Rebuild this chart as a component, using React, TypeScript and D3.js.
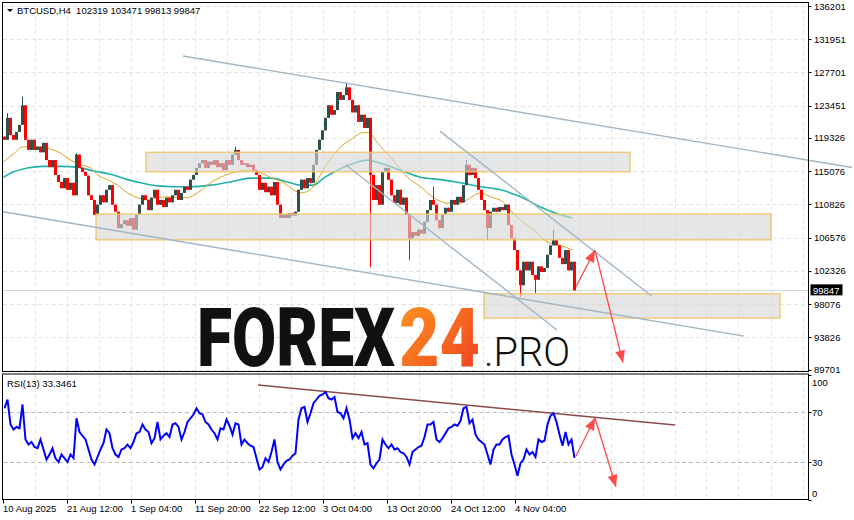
import React from 'react';
import * as d3 from 'd3';

// ---------- DATA ----------
const symbolTitle = 'BTCUSD,H4  102319 103471 99813 99847';
const rsiTitle = 'RSI(13) 33.3461';
const lastPrice = 99847;
const firstOpen = 119500;
// one candle every 3 H4 bars
const closes = [
  119100, 121900, 119700, 119100, 120100, 121000, 123500, 119100, 117800, 119100,
  117800, 118200, 117500, 118700, 116500, 115600, 116500, 114600, 113700, 112900,
  114200, 112700, 113600, 112000, 117200, 115500, 115000, 114500, 112000, 111400,
  109500, 110800, 112000, 111100, 112700, 113300, 110800, 109900, 107800, 108300,
  108800, 108100, 109100, 107600, 109500, 110800, 112000, 111400, 110100, 111700,
  112700, 110800, 111400, 110500, 111700, 111100, 112000, 112700, 111400, 112300,
  113100, 112700, 114000, 114600, 115500, 116100, 116500, 115500, 116300, 115900,
  116500, 115600, 116100, 115200, 116500, 115900, 117200, 117800, 116500, 115900,
  116100, 115600, 115900, 115200, 114600, 112700, 113600, 112400, 113100, 112000,
  113700, 110800, 109100, 109600, 109100, 109700, 109400, 109900, 112700, 114000,
  112900, 114200, 113600, 115900, 117800, 119100, 120300, 121900, 123500, 122300,
  122900, 125200, 124200, 124800, 125800, 124200, 122600, 123500, 121400, 122300,
  120600, 121900, 114600, 111400, 113300, 110800, 115000, 115500, 114000, 112000,
  111000, 112700, 110800, 111700, 109500, 106500, 107300, 106800, 107600, 107100,
  108600, 110100, 111400, 110800, 108800, 107800, 109500, 110400, 109900, 111400,
  110800, 111800, 111100, 113300, 115900, 114600, 115500, 114200, 112700, 111400,
  110100, 107800, 109900, 110400, 109900, 110500, 110100, 110800, 108200, 106500,
  105000, 102400, 100500, 103500, 102400, 103500, 101800, 101200, 102900, 102200,
  102700, 104400, 105600, 106300, 105600, 104000, 103200, 105000, 102400, 103500,
  99847,
];
const wickHighIdx = [1, 6, 24, 77, 114, 143, 154, 183];
const wickHighVal = [122500, 124600, 117400, 118200, 126400, 113100, 116500, 107600];
const wickLowIdx = [122, 135, 161, 172, 177];
const wickLowVal = [102800, 103700, 106300, 99000, 99500];

const rsiValues = [
  73, 80, 60, 56, 58, 57, 76, 48, 44, 46,
  42, 41, 48, 40, 32, 36, 41, 33, 30, 36,
  33, 30, 36, 33, 65, 54, 51, 48, 40, 32,
  28, 34, 40, 45, 56, 53, 41, 36, 34, 40,
  41, 44, 41, 46, 53, 54, 60, 56, 54, 45,
  49, 62, 48, 51, 53, 50, 60, 61, 58, 48,
  54, 62, 65, 68, 73, 69, 68, 62, 60, 56,
  53, 48, 57, 56, 64, 59, 52, 61, 60, 44,
  48, 45, 43, 42, 33, 24, 26, 33, 30, 38,
  48, 30, 24, 28, 31, 32, 35, 37, 64, 73,
  74, 62, 69, 77, 80, 83, 84, 86, 81, 80,
  82, 70, 69, 65, 73, 64, 49, 53, 49, 54,
  44, 45, 28, 25, 29, 32, 48, 44, 41, 44,
  40, 41, 38, 37, 34, 28, 38, 40, 42, 43,
  50, 60, 60, 62, 48, 46, 49, 53, 57, 58,
  60, 59, 63, 73, 74, 61, 64, 52, 48, 46,
  44, 36, 28, 40, 44, 44, 48, 50, 51, 36,
  28, 19, 29, 32, 40, 36, 38, 34, 48, 46,
  47, 60, 67, 69, 62, 52, 43, 54, 44, 48,
  33.35,
];

const maFastBars = [0, 10, 20, 30, 40, 47, 57, 67, 77, 87, 94, 104, 114, 124, 134, 144, 154, 164, 174, 184, 194, 207, 227, 244, 254, 267, 280, 290, 297, 307, 314, 324, 334, 347, 360, 365, 374, 380, 387, 404, 417, 430, 444, 457, 467, 477, 487, 500, 507, 517, 530, 544, 557, 569];
const maFastVals = [116300, 117300, 118200, 118200, 118200, 117900, 117400, 116500, 115900, 115500, 114600, 114000, 113300, 112300, 111700, 111400, 111700, 111800, 111700, 111700, 112300, 113600, 114800, 115200, 115000, 114300, 113600, 112700, 112300, 112700, 114000, 116100, 117800, 119100, 120000, 120000, 118700, 117800, 116900, 114300, 113100, 111700, 111000, 111000, 111700, 112300, 111800, 111100, 110100, 108800, 107600, 106000, 105600, 105000];
const maSlowBars = [0, 10, 24, 40, 57, 74, 90, 107, 124, 137, 154, 170, 187, 207, 227, 247, 267, 284, 297, 310, 320, 334, 350, 364, 377, 397, 417, 437, 457, 477, 497, 517, 537, 557, 569];
const maSlowVals = [114300, 115000, 115500, 115700, 115700, 115600, 115100, 114700, 114000, 113600, 113200, 113100, 113100, 113300, 113700, 114200, 114200, 113700, 113300, 113300, 114200, 115200, 116100, 116500, 116100, 115200, 114300, 114000, 113600, 113100, 112700, 111800, 110500, 109500, 109100];

const priceTicks = [136201, 131951, 127701, 123451, 119326, 115076, 110826, 106576, 102326, 98076, 93826, 89701];
const rsiTicks = [100, 70, 30, 0];
const rsiLevels = [70, 30];
const dateLabels = ['10 Aug 2025', '21 Aug 12:00', '1 Sep 04:00', '11 Sep 20:00', '22 Sep 12:00', '3 Oct 04:00', '13 Oct 20:00', '24 Oct 12:00', '4 Nov 04:00'];

// zones: [barFrom, barTo, priceTop, priceBottom]
const zoneFrom = [142.5, 92.5, 480.5];
const zoneTo = [626.5, 767.5, 776.5];
const zoneTop = [117500, 109600, 99400];
const zoneBottom = [115000, 106300, 96300];

// trend lines
const trendB0 = [179.5, -0.5, 436.5, 342.5];
const trendP0 = [129800, 109900, 120200, 115870];
const trendB1 = [848.5, 740.5, 648.5, 553.5];
const trendP1 = [115550, 94000, 99100, 94780];

const priceArrowB0 = [572.5, 591.5];
const priceArrowP0 = [100300, 105000];
const priceArrowB1 = [591.5, 619.5];
const priceArrowP1 = [105000, 90600];

const rsiTrend = [254.5, 91.6, 671.5, 59.6];
const rsiArrowB0 = [572.5, 591.5];
const rsiArrowV0 = [34.8, 65.2];
const rsiArrowB1 = [591.5, 612.5];
const rsiArrowV1 = [65.2, 10];

// ---------- CHART ----------
const FONT = 'Liberation Sans, Arial, sans-serif';
const BULL = '#2F4F4F';
const BEAR = '#FF0000';
const TREND = '#9FB6C6';
const ARROW = '#FF4A4A';

function head(x1: number, y1: number, x2: number, y2: number, len = 12, w = 5) {
  const a = Math.atan2(y2 - y1, x2 - x1);
  const bx = x2 - len * Math.cos(a), by = y2 - len * Math.sin(a);
  const px = -Math.sin(a) * w, py = Math.cos(a) * w;
  return `${x2},${y2} ${bx + px},${by + py} ${bx - px},${by - py}`;
}

export default function App() {
  const L = 3, R = 808.5, MT = 2.5, MB = 371.5, RT = 374, RB = 499.5;
  const x = d3.scaleLinear().domain([0, 805]).range([3.5, 808.5]);
  const y = d3.scaleLinear().domain([89701, 136201]).range([369.7, 6]);
  const yr = d3.scaleLinear().domain([0, 100]).range([RB, RT + 0.5]);

  const hiMap = new Map<number, number>();
  wickHighIdx.forEach((k, j) => hiMap.set(k, wickHighVal[j]));
  const loMap = new Map<number, number>();
  wickLowIdx.forEach((k, j) => loMap.set(k, wickLowVal[j]));

  const candles = closes.map((c, i) => {
    const o = i === 0 ? firstOpen : closes[i - 1];
    const hi = Math.max(o, c, hiMap.get(i) ?? -Infinity);
    const lo = Math.min(o, c, loMap.get(i) ?? Infinity);
    return { bar: i * 3, o, c, hi, lo };
  });

  const maLine = d3.line<[number, number]>().x(d => x(d[0])).y(d => y(d[1])).curve(d3.curveMonotoneX);
  const fastPts = maFastBars.map((b, i) => [b, maFastVals[i]] as [number, number]);
  const slowPts = maSlowBars.map((b, i) => [b, maSlowVals[i]] as [number, number]);
  const rsiLine = d3.line<number>().x((_, i) => x(i * 3 + 1)).y(v => yr(v));

  const vGrid = d3.range(32, 805, 32);

  return (
    <svg width={854} height={520} style={{ position: 'absolute', left: 0, top: 0, background: '#fff' }} fontFamily={FONT}>
      <defs>
        <clipPath id="main"><rect x={L} y={MT} width={R - L} height={MB - MT} /></clipPath>
        <clipPath id="rsi"><rect x={L} y={RT} width={R - L} height={RB - RT} /></clipPath>
        <linearGradient id="g24" x1="0" y1="0" x2="1" y2="1">
          <stop offset="0" stopColor="#FF9A1E" />
          <stop offset="1" stopColor="#EE3A24" />
        </linearGradient>
      </defs>
      <rect width={854} height={520} fill="#fff" />

      {/* grid main */}
      <g stroke="#E3E3E3" strokeDasharray="4,3" strokeWidth={1}>
        {priceTicks.map(p => <line key={'h' + p} x1={L} x2={R} y1={Math.round(y(p)) + 0.5} y2={Math.round(y(p)) + 0.5} />)}
        {vGrid.map(b => <line key={'v' + b} x1={Math.round(x(b)) - 0.5} x2={Math.round(x(b)) - 0.5} y1={MT} y2={MB} />)}
        {vGrid.map(b => <line key={'vr' + b} x1={Math.round(x(b)) - 0.5} x2={Math.round(x(b)) - 0.5} y1={RT} y2={RB} />)}
      </g>
      <g stroke="#BDBDBD" strokeDasharray="4,3">
        {rsiLevels.map(v => <line key={'l' + v} x1={L} x2={R} y1={Math.round(yr(v)) + 0.5} y2={Math.round(yr(v)) + 0.5} />)}
      </g>

      {/* last price line */}
      <line x1={L} x2={R} y1={Math.round(y(lastPrice)) + 0.5} y2={Math.round(y(lastPrice)) + 0.5} stroke="#D4D4D4" />

      <g clipPath="url(#main)">
        <path d={maLine(slowPts) || ''} fill="none" stroke="#20B2AA" strokeWidth={1.6} />
        <path d={maLine(fastPts) || ''} fill="none" stroke="#DAA520" strokeWidth={1} />
        {candles.map((k, i) => {
          const col = k.c >= k.o ? BULL : BEAR;
          const cx = x(k.bar) + 1;
          const top = y(Math.max(k.o, k.c));
          const bot = y(Math.min(k.o, k.c));
          return (
            <g key={i}>
              <line x1={cx} x2={cx} y1={y(k.hi)} y2={y(k.lo)} stroke={col} strokeWidth={1} />
              <rect x={cx - 1.5} y={top} width={3} height={Math.max(1.2, bot - top)} fill={col} />
            </g>
          );
        })}
        {zoneFrom.map((b, i) => (
          <rect key={'z' + i} x={x(b)} y={y(zoneTop[i])} width={x(zoneTo[i]) - x(b)} height={y(zoneBottom[i]) - y(zoneTop[i])}
            fill="#D6D6D6" fillOpacity={0.62} stroke="#F3C56A" strokeWidth={1.3} />
        ))}
      </g>

      {trendB0.map((b, i) => (
        <line key={'t' + i} x1={x(b)} y1={y(trendP0[i])} x2={x(trendB1[i])} y2={y(trendP1[i])} stroke={TREND} strokeWidth={1.4} />
      ))}

      {priceArrowB0.map((b, i) => {
        const x1 = x(b), y1 = y(priceArrowP0[i]), x2 = x(priceArrowB1[i]), y2 = y(priceArrowP1[i]);
        return (
          <g key={'pa' + i}>
            <line x1={x1} y1={y1} x2={x2} y2={y2} stroke={ARROW} strokeWidth={1.3} />
            <polygon points={head(x1, y1, x2, y2)} fill={ARROW} />
          </g>
        );
      })}

      {/* watermark */}
      <g fontFamily="Roboto, Lato, sans-serif">
        <g transform="translate(197,366) scale(1,1.27)">
          <text x={0} y={0} fontWeight={900} fontSize={64} textLength={198} lengthAdjust="spacingAndGlyphs" fill="#111">FOREX</text>
        </g>
        <g transform="translate(399,366) scale(1,1.27)">
          <text x={0} y={0} fontWeight={900} fontSize={64} textLength={81} lengthAdjust="spacingAndGlyphs" fill="url(#g24)">24</text>
        </g>
        <text x={484} y={366} fontWeight={300} fontSize={40} textLength={86} lengthAdjust="spacingAndGlyphs" fill="#111">.PRO</text>
      </g>

      {/* RSI */}
      <g clipPath="url(#rsi)">
        <line x1={x(rsiTrend[0])} y1={yr(rsiTrend[1])} x2={x(rsiTrend[2])} y2={yr(rsiTrend[3])} stroke="#8E4A4A" strokeWidth={1.5} />
        <path d={rsiLine(rsiValues) || ''} fill="none" stroke="#0000FF" strokeWidth={2} strokeLinejoin="miter" />
        {rsiArrowB0.map((b, i) => {
          const x1 = x(b), y1 = yr(rsiArrowV0[i]), x2 = x(rsiArrowB1[i]), y2 = yr(rsiArrowV1[i]);
          return (
            <g key={'ra' + i}>
              <line x1={x1} y1={y1} x2={x2} y2={y2} stroke={ARROW} strokeWidth={1.3} />
              <polygon points={head(x1, y1, x2, y2)} fill={ARROW} />
            </g>
          );
        })}
      </g>

      <rect x={L - 0.5} y={MT} width={R - L + 0.5} height={MB - MT} fill="none" stroke="#000" strokeWidth={1} />
      <rect x={L - 0.5} y={RT} width={R - L + 0.5} height={RB - RT} fill="none" stroke="#000" strokeWidth={1} />

      <g fontSize={9.5} fill="#000">
        {priceTicks.map(p => (
          <g key={'pt' + p}>
            <line x1={R} x2={R + 3} y1={Math.round(y(p)) + 0.5} y2={Math.round(y(p)) + 0.5} stroke="#000" />
            <text x={814} y={y(p)} dominantBaseline="central">{p}</text>
          </g>
        ))}
        <rect x={810.5} y={y(lastPrice) - 6} width={32} height={11} fill="#000" />
        <text x={813} y={y(lastPrice)} dominantBaseline="central" fill="#fff">{lastPrice}</text>
      </g>

      <g fontSize={9.5} fill="#000">
        {rsiTicks.map(v => {
          const ty = Math.min(Math.max(yr(v), RT + 8), RB - 6);
          return (
            <g key={'rt' + v}>
              <line x1={R} x2={R + 3} y1={Math.round(yr(v)) + 0.5} y2={Math.round(yr(v)) + 0.5} stroke="#000" />
              <text x={812} y={ty} dominantBaseline="central">{v}</text>
            </g>
          );
        })}
      </g>

      <g fontSize={9.5} fill="#000">
        {dateLabels.map((s, i) => {
          const tx = Math.round(x(i * 64)) - 0.5;
          return (
            <g key={'d' + i}>
              <line x1={tx} x2={tx} y1={RB} y2={RB + 4} stroke="#000" />
              <text x={tx - 0.5} y={511.5}>{s}</text>
            </g>
          );
        })}
      </g>

      <polygon points="7,9 13,9 10,12" fill="#000" />
      <text x={17} y={14} fontSize={9.5} fill="#000" xmlSpace="preserve">{symbolTitle}</text>
      <text x={7} y={386.5} fontSize={9.5} fill="#000">{rsiTitle}</text>
    </svg>
  );
}
